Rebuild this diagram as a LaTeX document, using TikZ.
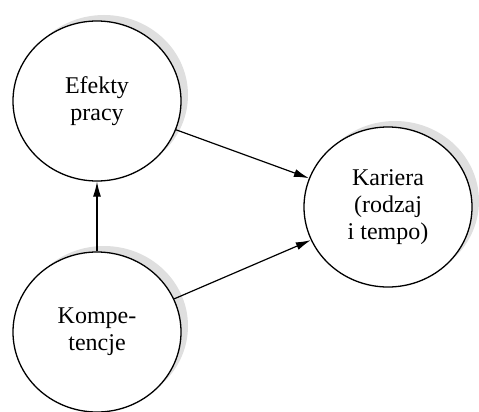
\documentclass[tikz,border=0pt]{standalone}
\usepackage{fontspec}
\setmainfont{Liberation Serif}
\usepackage{tikz}
\usetikzlibrary{shapes.geometric,shadows,arrows.meta}
\tikzstyle{factor} = [ellipse, draw, line width=1.3pt, fill=white, minimum width=168pt, minimum height=160pt, align=center, text centered, font=\fontsize{24}{27}\selectfont, drop shadow={shadow xshift=7pt, shadow yshift=6pt, fill=gray!25, opacity=1}]
\tikzstyle{connector} = [line width=1.2pt, -{Latex[length=15pt,width=8pt]}]

\begin{document}
\begin{tikzpicture}[x=1pt,y=-1pt]
        \useasboundingbox (0,0) rectangle (479,412);
        \node (efekty) [factor] at (97,101) {Efekty\\pracy};
        \node (kompetencje) [factor, below of = efekty, node distance = 231pt] {Kompe-\\tencje};
        \node (kariera) [factor, right of = efekty, node distance = 291pt, yshift = -106pt] {Kariera\\(rodzaj\\i tempo)};
        \draw [connector] (kompetencje) -- (efekty);
        \draw [connector] (efekty) -- (kariera);
        \draw [connector] (kompetencje) -- (kariera);
    \end{tikzpicture}
\end{document}
